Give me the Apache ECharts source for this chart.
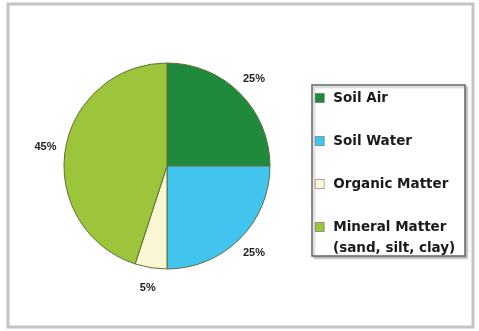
<!DOCTYPE html>
<html>
<head>
<meta charset="utf-8">
<script src="https://cdn.jsdelivr.net/npm/echarts@6/dist/echarts.min.js"></script>
<style>
  html, body { margin: 0; padding: 0; background: #fff; }
  #chart { width: 479px; height: 331px; }
</style>
</head>
<body>
<div id="chart"></div>
<script>
// soil composition
let categories = ['Soil Air', 'Soil Water', 'Organic Matter', 'Mineral Matter']
let values = [25, 25, 5, 45]
let colors = ['#1f8a3b', '#41c5ef', '#fbf7d4', '#9cc53b']
let subNote = '(sand, silt, clay)'

let legendFont = '"DejaVu Sans", Verdana, sans-serif'

let chart = echarts.init(document.getElementById('chart'))
chart.setOption({
  animation: false,
  backgroundColor: '#fff',
  color: colors,
  graphic: [
    // outer frame
    {
      type: 'rect',
      shape: { x: 8, y: 4, width: 465, height: 323 },
      style: { fill: 'none', stroke: '#c4c4c4', lineWidth: 3 },
      z: 0
    },
    // legend frame
    {
      type: 'rect',
      shape: { x: 312, y: 85, width: 153, height: 171 },
      style: { fill: '#fff', stroke: '#666', lineWidth: 1.5, shadowColor: 'rgba(0,0,0,0.25)', shadowOffsetX: 2, shadowOffsetY: 2, shadowBlur: 2 },
      z: 0
    },
    {
      type: 'text',
      left: 333,
      top: 241,
      style: { text: subNote, font: 'bold 13.5px ' + legendFont, fill: '#1a1a1a' },
      z: 5
    }
  ],
  legend: {
    orient: 'vertical',
    left: 315,
    top: 91,
    padding: 0,
    itemGap: 29,
    itemWidth: 9,
    itemHeight: 9,
    itemStyle: { borderColor: '#555', borderWidth: 0.5 },
    icon: 'rect',
    data: categories,
    textStyle: {
      fontFamily: legendFont,
      fontWeight: 'bold',
      fontSize: 13.5,
      lineHeight: 14,
      color: '#1a1a1a',
      padding: [0, 0, 0, 4]
    }
  },
  series: [
    {
      type: 'pie',
      center: [167, 166],
      radius: 103,
      startAngle: 90,
      clockwise: true,
      data: categories.map((name, i) => ({ name: name, value: values[i] })),
      itemStyle: { borderColor: '#5e6f38', borderWidth: 1 },
      label: {
        show: true,
        position: 'outside',
        formatter: '{c}%',
        distanceToLabelLine: 0,
        fontFamily: '"Liberation Sans", Arial, sans-serif',
        fontWeight: 'bold',
        fontSize: 11,
        color: '#222'
      },
      labelLine: { show: false, length: 20, length2: 0 },
      // centre each label on the end of its (hidden) guide line
      labelLayout: function () {
        return { align: 'center', verticalAlign: 'middle' }
      },
      emphasis: { disabled: true }
    }
  ]
})
</script>
</body>
</html>
